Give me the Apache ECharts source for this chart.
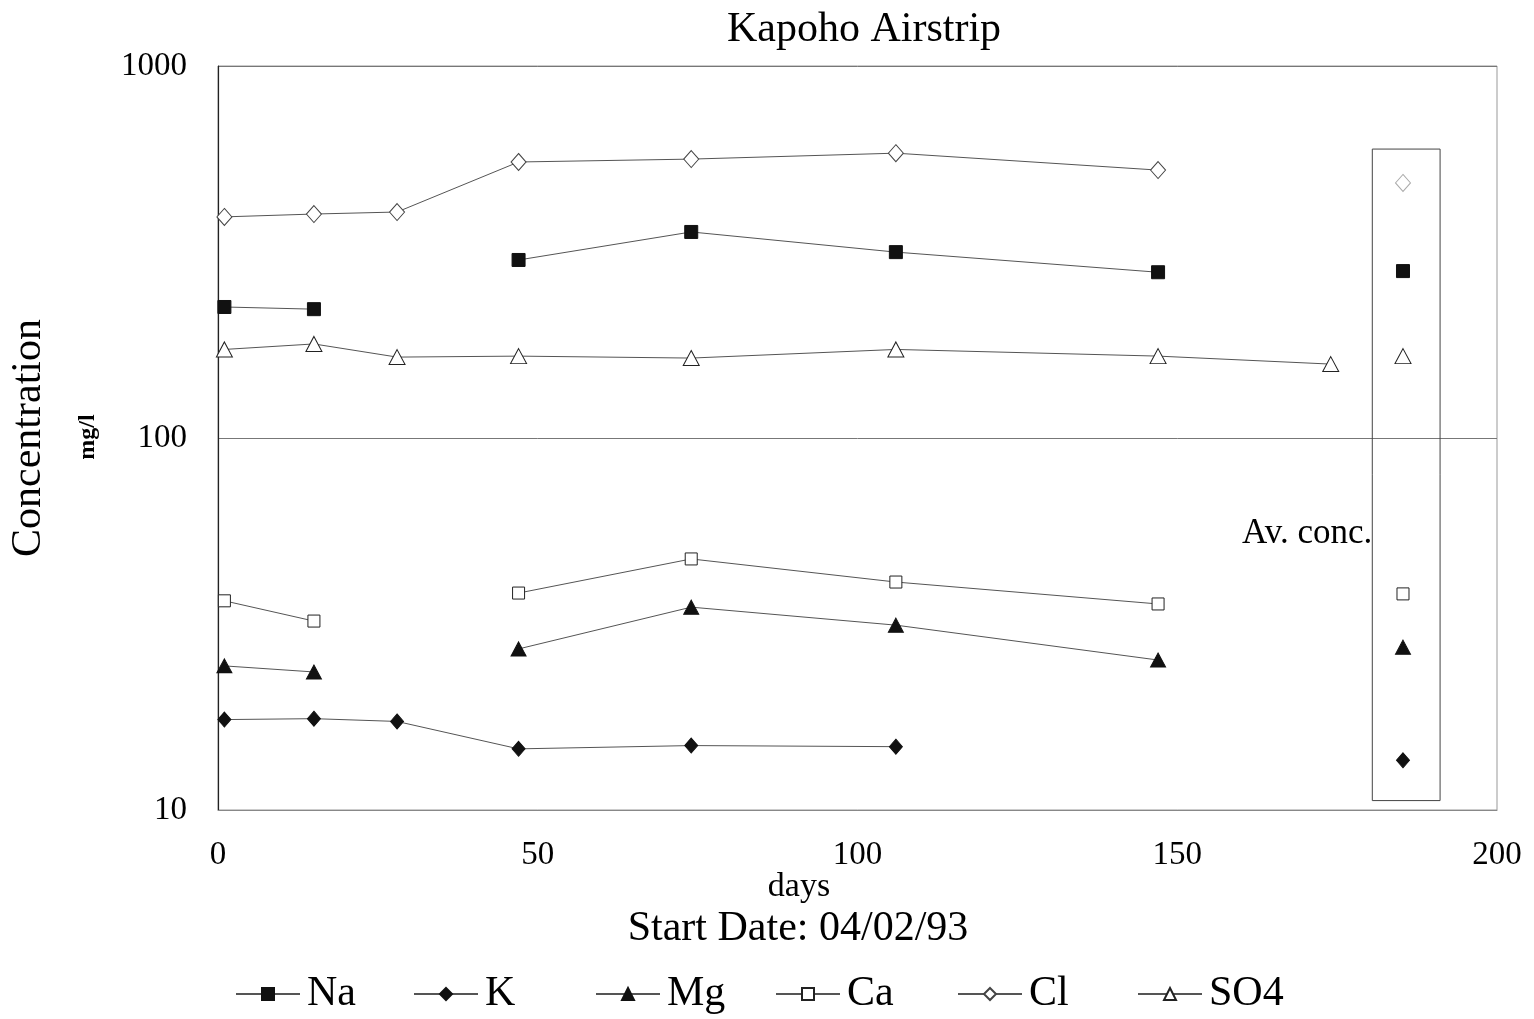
<!DOCTYPE html>
<html>
<head>
<meta charset="utf-8">
<title>Kapoho Airstrip</title>
<script src="https://cdn.jsdelivr.net/npm/echarts@6/dist/echarts.min.js"></script>
<style>
  html, body { margin: 0; padding: 0; background: #fff; }
  #chart { width: 1534px; height: 1019px; }
</style>
</head>
<body>
<div id="chart"></div>
<script>
// Sampling days since start date
const days = [1, 15, 28, 47, 74, 106, 147, 174];

// Concentrations (mg/l); null where no sample was taken
const na  = [225, 222, null, 301, 358, 316, 279, null];
const k   = [17.5, 17.6, 17.3, 14.6, 14.9, 14.8, null, null];
const mg  = [24.4, 23.5, null, 27.1, 35.1, 31.4, 25.3, null];
const ca  = [36.5, 32.2, null, 38.3, 47.3, 41.0, 35.8, null];
const cl  = [393, 400, 405, 552, 562, 583, 525, null];
const so4 = [173, 179, 165, 166, 164, 173, 166, 158];

// Average concentrations shown in the side column
const avDay = 185.3;
const avValues = { Na: 281, K: 13.6, Mg: 27.4, Ca: 38.1, Cl: 485, SO4: 166 };

// Side column frame and its caption
const avBox = { x0: 180.5, x1: 191.1, y0: 10.6, y1: 598 };
const avLabel = { day: 180.5, value: 55.2, text: 'Av. conc.' };

const xTicks = { min: 0, max: 200, interval: 50 };
const yTicks = { min: 10, max: 1000 };

const names = ['Na', 'K', 'Mg', 'Ca', 'Cl', 'SO4'];
const values = [na, k, mg, ca, cl, so4];

const FONT = 'Liberation Serif';
const LINE = '#555';
const INK = '#111';

const markerStyle = {
  Na:  { symbol: 'rect', size: 13, fill: INK, border: INK },
  K:   { symbol: 'diamond', size: [13, 15], fill: INK, border: INK },
  Mg:  { symbol: 'triangle', size: [15, 14], fill: INK, border: INK },
  Ca:  { symbol: 'rect', size: 12, fill: '#fff', border: '#222' },
  Cl:  { symbol: 'diamond', size: [15, 17], fill: '#fff', border: '#444' },
  SO4: { symbol: 'triangle', size: [16, 15], fill: '#fff', border: '#222' }
};

function pair(arr) {
  return days.map((d, i) => [d, arr[i]]);
}

const series = [];
names.forEach((n, i) => {
  const m = markerStyle[n];
  series.push({
    name: n,
    type: 'line',
    data: pair(values[i]),
    connectNulls: false,
    symbol: m.symbol,
    symbolSize: m.size,
    showSymbol: true,
    lineStyle: { color: LINE, width: 1 },
    itemStyle: { color: m.fill, borderColor: m.border, borderWidth: 1 },
    emphasis: { disabled: true },
    z: 3
  });
});

// Average markers
names.forEach((n) => {
  const m = markerStyle[n];
  const faint = n === 'Cl';
  series.push({
    name: n + ' (av)',
    type: 'scatter',
    data: [[avDay, avValues[n]]],
    symbol: m.symbol,
    symbolSize: m.size,
    itemStyle: {
      color: m.fill,
      borderColor: faint ? '#aaa' : m.border,
      borderWidth: 1,
      opacity: 1
    },
    emphasis: { disabled: true },
    z: 4
  });
});

// Side column frame and caption
series.push({
  name: 'avFrame',
  type: 'scatter',
  data: [[avLabel.day, avLabel.value]],
  symbolSize: 0,
  itemStyle: { opacity: 1 },
  label: {
    show: true,
    position: 'left',
    distance: 0,
    formatter: avLabel.text,
    fontFamily: FONT,
    fontSize: 35,
    color: '#000'
  },
  markArea: {
    silent: true,
    itemStyle: { color: 'rgba(0,0,0,0)', borderColor: '#444', borderWidth: 1 },
    data: [[
      { coord: [avBox.x0, avBox.y1] },
      { coord: [avBox.x1, avBox.y0] }
    ]]
  },
  z: 2
});

const legendLefts = [235, 413, 595, 775, 957, 1137];
const legends = names.map((n, i) => ({
  data: [n],
  left: legendLefts[i],
  top: 973,
  padding: 0,
  orient: 'horizontal',
  itemWidth: 64,
  itemHeight: 15,
  itemGap: 0,
  selectedMode: false,
  textStyle: { fontFamily: FONT, fontSize: 42, color: '#000', padding: [0, 0, 0, 2] }
}));

const option = {
  animation: false,
  backgroundColor: '#fff',
  title: {
    text: 'Kapoho Airstrip',
    left: 859,
    textAlign: 'center',
    top: 4,
    textStyle: { fontFamily: FONT, fontSize: 42, fontWeight: 'normal', color: '#000' }
  },
  legend: legends,
  grid: {
    left: 218, right: 37, top: 66, bottom: 209,
    show: true,
    borderColor: '#999',
    borderWidth: 1,
    backgroundColor: 'transparent'
  },
  xAxis: {
    type: 'value',
    min: xTicks.min,
    max: xTicks.max,
    interval: xTicks.interval,
    axisLine: { show: true, lineStyle: { color: '#888', width: 1 } },
    axisTick: { show: false },
    splitLine: { show: false },
    axisLabel: { fontFamily: FONT, fontSize: 33, color: '#000', margin: 29 }
  },
  yAxis: {
    type: 'log',
    logBase: 10,
    min: yTicks.min,
    max: yTicks.max,
    axisLine: { show: true, lineStyle: { color: '#222', width: 1.2 } },
    axisTick: { show: false },
    minorTick: { show: false },
    splitLine: { show: true, lineStyle: { color: '#777', width: 1 } },
    axisLabel: {
      fontFamily: FONT, fontSize: 33, color: '#000', margin: 31,
      formatter: (v) => String(Math.round(v))
    },
    name: 'Concentration',
    nameLocation: 'middle',
    nameRotate: 90,
    nameGap: 168,
    nameTextStyle: { fontFamily: FONT, fontSize: 42, color: '#000' }
  },
  graphic: [
    {
      type: 'text',
      x: 88, y: 437,
      rotation: Math.PI / 2,
      style: {
        text: 'mg/l', fontFamily: FONT, fontSize: 24, fontWeight: 'bold',
        fill: '#000', align: 'center', verticalAlign: 'middle'
      }
    },
    {
      type: 'text',
      x: 799, y: 887,
      style: {
        text: 'days', fontFamily: FONT, fontSize: 34, fill: '#000',
        align: 'center', verticalAlign: 'middle'
      }
    },
    {
      type: 'text',
      x: 798, y: 929,
      style: {
        text: 'Start Date: 04/02/93', fontFamily: FONT, fontSize: 42, fill: '#000',
        align: 'center', verticalAlign: 'middle'
      }
    }
  ],
  series: series
};

const chart = echarts.init(document.getElementById('chart'), null, { renderer: 'canvas' });
chart.setOption(option);
</script>
</body>
</html>
